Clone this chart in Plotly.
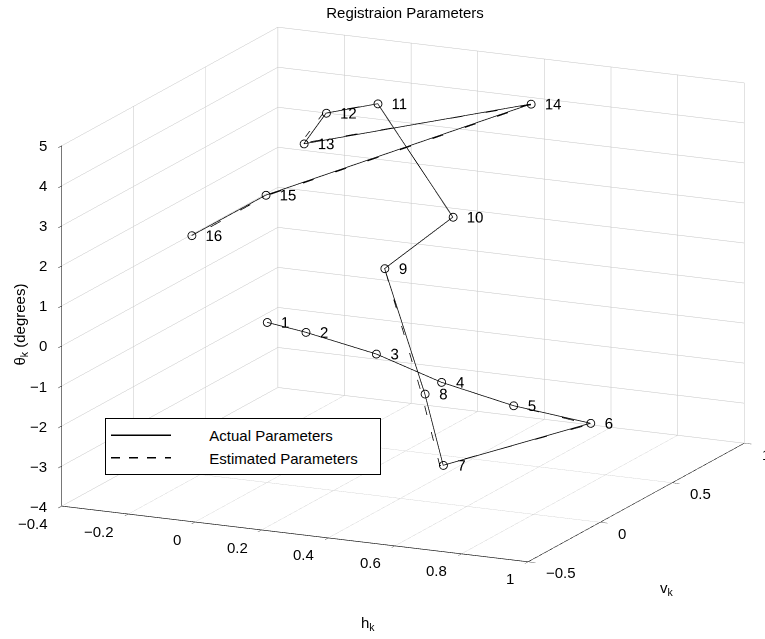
import plotly.graph_objects as go

# ---- data (h_k, v_k, theta_k) for frames 1..16 ----
frame_labels = [str(i) for i in range(1, 17)]
h_actual = [0.000, 0.140, 0.321, 0.519, 0.712, 0.891, 0.537, 0.495, 0.372, 0.525, 0.154, 0.033, 0.044, 0.497, 0.001, -0.180]
v_actual = [0.000, -0.055, 0.015, 0.010, 0.064, 0.185, -0.019, -0.049, -0.044, 0.076, 0.412, 0.334, 0.154, 0.682, -0.011, -0.107]
t_actual = [0.0, 0.0, -0.5, -1.0, -1.5, -2.0, -3.0, -1.2, 1.8, 3.0, 4.8, 4.6, 4.2, 4.6, 3.2, 2.2]

h_est = [0.000, 0.140, 0.321, 0.519, 0.712, 0.889, 0.527, 0.485, 0.372, 0.525, 0.154, 0.025, 0.034, 0.497, 0.001, -0.182]
v_est = [0.000, -0.055, 0.015, 0.010, 0.064, 0.185, -0.019, -0.049, -0.044, 0.076, 0.412, 0.334, 0.154, 0.682, -0.011, -0.107]
t_est = [0.0, 0.0, -0.5, -1.0, -1.5, -2.03, -3.02, -1.2, 1.8, 3.0, 4.8, 4.6, 4.2, 4.58, 3.18, 2.14]

h_ticks = [-0.4, -0.2, 0, 0.2, 0.4, 0.6, 0.8, 1]
v_ticks = [-0.5, 0, 0.5, 1]
t_ticks = [-4, -3, -2, -1, 0, 1, 2, 3, 4, 5]

FONT = "Liberation Sans, Arial, Helvetica, sans-serif"
FS = 15

h_rng = [h_ticks[0], h_ticks[-1]]
v_rng = [v_ticks[0], v_ticks[-1]]
t_rng = [t_ticks[0], t_ticks[-1]]
hmin, hmax = h_rng
vmin, vmax = v_rng
tmin, tmax = t_rng


def fmt(v):
    return f"{v:g}".replace("-", "\u2212")


NB = "\u00a0" * 8   # gap between legend sample line and text
NT = "\u00a0" * 4   # right padding inside the legend box

fig = go.Figure()
fig.add_trace(go.Scatter3d(
    x=h_actual, y=v_actual, z=t_actual, mode="lines",
    line=dict(color="black", width=1.5), name=NB + "Actual Parameters" + NT))
fig.add_trace(go.Scatter3d(
    x=h_est, y=v_est, z=t_est, mode="lines",
    line=dict(color="black", width=1.5, dash="dash"), name=NB + "Estimated Parameters" + NT))
fig.add_trace(go.Scatter3d(
    x=h_actual, y=v_actual, z=t_actual, mode="markers+text",
    marker=dict(symbol="circle-open", size=5, color="black"),
    text=frame_labels, textposition="middle right",
    textfont=dict(family=FONT, size=FS, color="black"),
    showlegend=False, hoverinfo="skip"))

axis_common = dict(
    showbackground=False, showgrid=True, gridcolor="#c4c4c4", gridwidth=1,
    showline=True, linecolor="black", linewidth=1.2,
    ticks="outside", tickcolor="black", ticklen=8,
    showticklabels=False,
    zeroline=False, showspikes=False, title=dict(text=""),
)

# tick labels as flat scene annotations placed at the axis tick positions
scene_ann = []
for h in h_ticks:
    scene_ann.append(dict(x=h, y=vmin, z=tmin, text=fmt(h), showarrow=False,
                          xanchor="right", yanchor="middle", xshift=-12, yshift=-17,
                          font=dict(family=FONT, size=FS, color="black")))
for v in v_ticks:
    scene_ann.append(dict(x=hmax, y=v, z=tmin, text=fmt(v), showarrow=False,
                          xanchor="left", yanchor="middle", xshift=16, yshift=-11,
                          font=dict(family=FONT, size=FS, color="black")))
for t in t_ticks:
    scene_ann.append(dict(x=hmin, y=vmin, z=t, text=fmt(t), showarrow=False,
                          xanchor="right", yanchor="middle", xshift=-13, yshift=0,
                          font=dict(family=FONT, size=FS, color="black")))

dist = 1.6
d = (0.4088, -0.8760, 0.2560)
S = 1.7476

fig.update_layout(
    width=765, height=639,
    paper_bgcolor="white", plot_bgcolor="white",
    margin=dict(l=0, r=0, t=0, b=0),
    title=dict(text="Registraion Parameters", x=405 / 765, y=1 - 13 / 639,
               xanchor="center", yanchor="middle",
               font=dict(family=FONT, size=FS, color="black")),
    scene=dict(
        domain=dict(x=[0.0536, 1.0], y=[0.0782, 1.0]),
        xaxis=dict(range=h_rng, tickvals=h_ticks, **axis_common),
        yaxis=dict(range=v_rng, tickvals=v_ticks, **axis_common),
        zaxis=dict(range=t_rng, tickvals=t_ticks, **axis_common),
        aspectmode="manual",
        aspectratio=dict(x=1.0 * S, y=0.9934 * S, z=0.7242 * S),
        camera=dict(
            projection=dict(type="orthographic"),
            eye=dict(x=d[0] * dist, y=d[1] * dist, z=d[2] * dist),
            up=dict(x=0, y=0, z=1),
            center=dict(x=0, y=0, z=0),
        ),
        annotations=scene_ann,
    ),
    legend=dict(x=105 / 765, y=1 - 418 / 639, xanchor="left", yanchor="top",
                bordercolor="black", borderwidth=1, bgcolor="white",
                itemwidth=60,
                font=dict(family=FONT, size=FS, color="black")),
    annotations=[
        dict(text="h<sub>k</sub>", x=368 / 765, y=1 - 635 / 639, xref="paper", yref="paper",
             showarrow=False, font=dict(family=FONT, size=FS, color="black")),
        dict(text="v<sub>k</sub>", x=676 / 765, y=1 - 600 / 639, xref="paper", yref="paper",
             showarrow=False, font=dict(family=FONT, size=FS, color="black")),
        dict(text="θ<sub>k</sub> (degrees)", x=8 / 765, y=1 - 325 / 639, xref="paper", yref="paper",
             showarrow=False, textangle=-90, font=dict(family=FONT, size=FS, color="black")),
    ],
)

fig.write_html("out.html")
